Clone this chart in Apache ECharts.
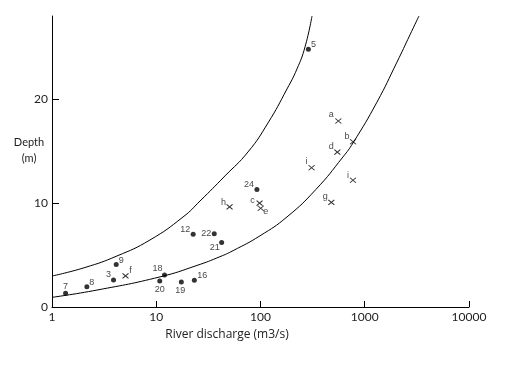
<!DOCTYPE html>
<html><head><meta charset="utf-8">
<script src="https://cdn.jsdelivr.net/npm/echarts@6/dist/echarts.min.js"></script>
<style>html,body{margin:0;padding:0;background:#fff}#c{width:519px;height:370px}</style>
</head><body><div id="c"></div>
<script>
// ---- data ----
const dotLabels = ['7', '8', '3', '9', '18', '20', '19', '16', '21', '12', '22', '24', '5'];
const dotQ      = [1.35, 2.16, 3.89, 4.13, 12.0, 10.8, 17.4, 23.2, 42.4, 22.6, 36.0, 92.4, 288];
const dotDepth  = [1.32, 1.95, 2.6, 4.1, 3.08, 2.5, 2.4, 2.57, 6.2, 7.0, 7.05, 11.3, 24.8];

const crossLabels = ['f', 'h', 'c', 'e', 'a', 'b', 'd', 'i', 'i', 'g'];
const crossQ      = [5.07, 50.5, 98, 100.5, 558, 771, 546, 309, 771, 478];
const crossDepth  = [3.0, 9.64, 10.0, 9.5, 17.9, 15.9, 14.9, 13.4, 12.2, 10.07];

const upperQ     = [1, 2.07, 4.20, 8.71, 18.06, 26.3, 45.6, 75.9, 118.0, 179.6, 223.9, 267.3, 311.9];
const upperDepth = [2.98, 3.80, 4.91, 6.45, 8.66, 10.20, 12.61, 14.92, 17.71, 20.98, 22.91, 25.02, 28.0];

const lowerQ     = [1, 2.70, 10.87, 24.6, 40.8, 54.5, 98.9, 179.5, 340.6, 618, 771, 1309, 2037, 2716, 3312];
const lowerDepth = [0.93, 1.63, 2.90, 4.00, 4.84, 5.42, 6.85, 8.67, 11.32, 14.44, 15.78, 19.71, 23.56, 26.19, 28.0];

const xTickValues = [1, 10, 100, 1000, 10000];
const xTickLabels = ['1', '10', '100', '1000', '10000'];
const yTickValues = [0, 10, 20];
const yTickLabels = ['0', '10', '20'];

// ---- label placement (style only) ----
const dotLabelOffsets = [[0,-7],[5,-4],[-5,-5],[5,-4],[-7,-6],[0,8],[-1,8],[8,-5],[-7,5],[-8,-5],[-8,0],[-8,-5],[5,-5]];
const crossLabelOffsets = [[5,-5],[-6,-4],[-7,-3],[5,3],[-7,-6],[-6,-5],[-6,-6],[-5,-6],[-5,-5],[-6,-6]];

const chart = echarts.init(document.getElementById('c'), null, {renderer: 'canvas'});
const labelStyle = {show: true, position: 'inside', color: '#111', fontFamily: 'Liberation Sans', fontSize: 9};

chart.setOption({
  animation: false,
  backgroundColor: '#fff',
  grid: {left: 52, right: 50, top: 16, bottom: 63},
  xAxis: {
    type: 'log', logBase: 10, min: 1, max: 10000,
    axisLine: {lineStyle: {color: '#000', width: 1}},
    axisTick: {inside: true, length: 6, lineStyle: {color: '#000'}},
    splitLine: {show: false},
    minorTick: {show: false},
    axisLabel: {
      color: '#222', fontFamily: 'Lato', fontSize: 12, margin: 4,
      formatter: function (v) {
        const i = xTickValues.findIndex(t => Math.abs(Math.log10(t) - Math.log10(v)) < 1e-6);
        return i >= 0 ? xTickLabels[i] : '';
      }
    }
  },
  yAxis: {
    type: 'value', min: 0, max: 28, interval: 10,
    axisLine: {show: true, lineStyle: {color: '#000', width: 1}},
    axisTick: {show: true, inside: true, length: 7, customValues: yTickValues, lineStyle: {color: '#000'}},
    splitLine: {show: false},
    axisLabel: {
      color: '#222', fontFamily: 'Lato', fontSize: 12, margin: 4,
      customValues: yTickValues,
      formatter: function (v) { const i = yTickValues.indexOf(v); return i >= 0 ? yTickLabels[i] : ''; }
    }
  },
  graphic: [
    {type: 'text', x: 29, y: 137, style: {text: 'Depth', font: '11px Lato', fill: '#222', textAlign: 'center'}},
    {type: 'text', x: 29, y: 153, style: {text: '(m)', font: '11px Lato', fill: '#222', textAlign: 'center'}},
    {type: 'text', x: 227, y: 329, style: {text: 'River discharge (m3/s)', font: '12px "Open Sans"', fill: '#222', textAlign: 'center'}}
  ],
  series: [
    {
      type: 'line', name: 'upper', smooth: 0.5, symbol: 'none', silent: true,
      lineStyle: {color: '#000', width: 1},
      data: upperQ.map((q, i) => [q, upperDepth[i]])
    },
    {
      type: 'line', name: 'lower', smooth: 0.5, symbol: 'none', silent: true,
      lineStyle: {color: '#000', width: 1},
      data: lowerQ.map((q, i) => [q, lowerDepth[i]])
    },
    {
      type: 'scatter', name: 'dots', symbol: 'circle', symbolSize: 5,
      itemStyle: {color: '#000'},
      label: Object.assign({}, labelStyle, {formatter: p => dotLabels[p.dataIndex]}),
      data: dotQ.map((q, i) => ({value: [q, dotDepth[i]], label: {offset: dotLabelOffsets[i]}}))
    },
    {
      type: 'scatter', name: 'crosses', symbol: 'path://M0,0L10,10M10,0L0,10', symbolSize: [6, 5],
      itemStyle: {color: 'rgba(0,0,0,0)', borderColor: '#000', borderWidth: 1},
      label: Object.assign({}, labelStyle, {formatter: p => crossLabels[p.dataIndex]}),
      data: crossQ.map((q, i) => ({value: [q, crossDepth[i]], label: {offset: crossLabelOffsets[i]}}))
    }
  ]
});
</script>
</body></html>
